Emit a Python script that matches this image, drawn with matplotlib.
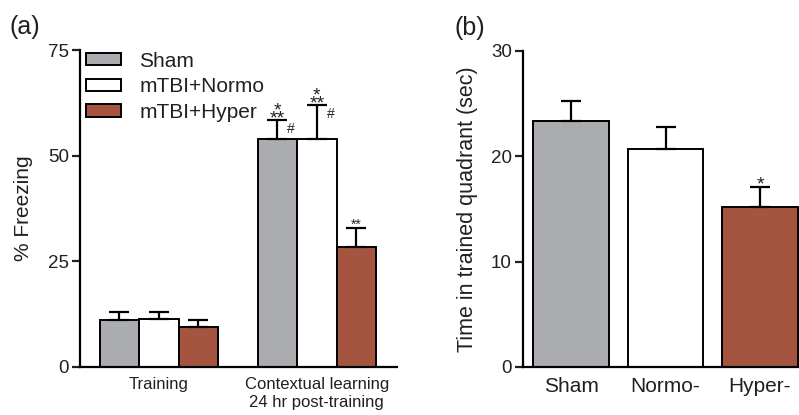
import matplotlib.pyplot as plt

plt.rcParams['font.family'] = ['Liberation Sans', 'DejaVu Sans']
plt.rcParams['text.color'] = '#231f20'
plt.rcParams['axes.labelcolor'] = '#231f20'
plt.rcParams['xtick.color'] = '#231f20'
plt.rcParams['ytick.color'] = '#231f20'

# Panel (a): % freezing
groups = ['Training', 'Contextual learning\n24 hr post-training']
series = ['Sham', 'mTBI+Normo', 'mTBI+Hyper']
colors = ['#abacb0', '#ffffff', '#a5553f']
freeze_mean = [[11.1, 54.0], [11.3, 54.0], [9.5, 28.4]]
freeze_err = [[1.9, 4.4], [1.7, 8.0], [1.5, 4.5]]
# significance marks above the contextual bars (series index -> mark)
stars_a = {0: '*\n**', 1: '*\n**', 2: '**'}
hash_a = [0, 1]

# Panel (b): time in trained quadrant
quad_labels = ['Sham', 'Normo-', 'Hyper-']
quad_mean = [23.3, 20.7, 15.15]
quad_err = [1.9, 2.1, 1.95]
stars_b = {2: '*'}

fig = plt.figure(figsize=(7.99, 4.15), dpi=100)
ax1 = fig.add_axes([0.1001, 0.1157, 0.3967, 0.7638])
ax2 = fig.add_axes([0.6546, 0.1157, 0.3454, 0.7621])

lw = 1.4
for ax in (ax1, ax2):
    ax.spines['top'].set_visible(False)
    ax.spines['right'].set_visible(False)
    ax.spines['left'].set_linewidth(1.6)
    ax.spines['bottom'].set_linewidth(1.6)
    ax.tick_params(axis='y', length=6, width=1.6, labelsize=13.5, pad=2)
    ax.tick_params(axis='x', length=0, pad=7)

# ---- panel a
for s, name in enumerate(series):
    xs = [g * 4 + s + 1 for g in range(len(groups))]
    ax1.bar(xs, freeze_mean[s], width=1.0, color=colors[s], edgecolor='black',
            linewidth=lw, label=name, zorder=2)
    ax1.errorbar(xs, freeze_mean[s], yerr=[[0] * len(xs), freeze_err[s]], fmt='none',
                 ecolor='black', elinewidth=1.6, capsize=7, capthick=1.6, zorder=3)

for s, mark in stars_a.items():
    x = 4 + s + 1
    y = freeze_mean[s][1] + freeze_err[s][1]
    if '\n' in mark:
        ax1.annotate(mark, (x, y), xytext=(0, -2.5), textcoords='offset points',
                     ha='center', va='baseline', multialignment='center',
                     fontsize=14, linespacing=0.32)
    else:
        ax1.annotate(mark, (x, y), xytext=(0, -0.5), textcoords='offset points',
                     ha='center', va='baseline', fontsize=10)
for s in hash_a:
    x = 4 + s + 1
    y = freeze_mean[s][1] + freeze_err[s][1]
    ax1.annotate('#', (x, y), xytext=(10, -6.5), textcoords='offset points',
                 ha='center', va='center', fontsize=10)

ax1.set_xlim(0, 8.03)
ax1.set_ylim(0, 75)
ax1.set_yticks([0, 25, 50, 75])
ax1.set_xticks([2, 6])
ax1.set_xticklabels(groups, fontsize=12, linespacing=1.25)
ax1.set_ylabel('% Freezing', fontsize=15)
ax1.yaxis.set_label_coords(-0.148, 0.5)
ax1.legend(loc='upper left', bbox_to_anchor=(0.02, 0.995), frameon=False,
           fontsize=15, handlelength=1.65, handleheight=0.55, handletextpad=0.9,
           labelspacing=0.32, borderpad=0, borderaxespad=0)
for h in ax1.get_legend().get_patches():
    h.set_linewidth(lw)
ax1.text(-0.222, 1.035, '(a)', transform=ax1.transAxes, fontsize=18,
         ha='left', va='bottom')

# ---- panel b
xb = list(range(len(quad_labels)))
ax2.bar(xb, quad_mean, width=0.8, color=colors, edgecolor='black', linewidth=lw, zorder=2)
ax2.errorbar(xb, quad_mean, yerr=[[0] * len(xb), quad_err], fmt='none', ecolor='black',
             elinewidth=1.6, capsize=7, capthick=1.6, zorder=3)
for i, mark in stars_b.items():
    ax2.annotate(mark, (xb[i], quad_mean[i] + quad_err[i]), xytext=(0, -2),
                 textcoords='offset points', ha='center', va='baseline', fontsize=14)

ax2.set_xlim(-0.508, 2.413)
ax2.set_ylim(0, 30)
ax2.set_yticks([0, 10, 20, 30])
ax2.set_xticks(xb)
ax2.set_xticklabels(quad_labels, fontsize=15)
ax2.set_ylabel('Time in trained quadrant (sec)', fontsize=15.5)
ax2.yaxis.set_label_coords(-0.163, 0.5)
ax2.text(-0.248, 1.035, '(b)', transform=ax2.transAxes, fontsize=18,
         ha='left', va='bottom')

fig.savefig('out.png', dpi=100)
